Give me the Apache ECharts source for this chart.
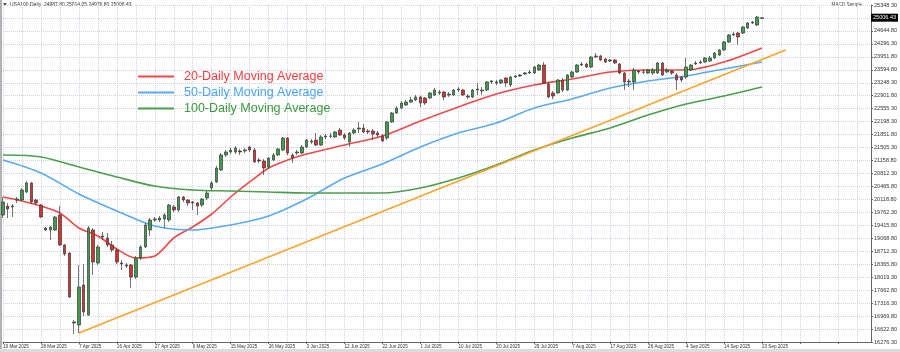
<!DOCTYPE html>
<html lang="en">
  <head>
    <meta charset="UTF-8" />
    <meta name="viewport" content="width=device-width, initial-scale=1.0" />
    <title>USA100 Daily</title>
    <style>
      * {
        padding: 0;
        margin: 0;
      }
      body { background: #fff; }
    </style>
    <script src="https://cdn.jsdelivr.net/npm/echarts@6.0.0/dist/echarts.min.js"></script>
  </head>
  <body>
    <div id="main" style="width: 900px; height: 352px;"></div>
    <script type="text/javascript">
      // daily bars, 19 Mar 2025 .. 23 Sep 2025
      const openP = [
        19695, 19937, 19911, 20099, 20099, 20314, 20557, 20099, 19964, 19345,
        19291, 19291, 19695, 18888, 18672, 16815, 16734, 17811, 17003, 19291,
        18403, 19103, 19076, 18888, 18753, 18403, 18349, 18349, 18026, 18538,
        18834, 19291, 19561, 19561, 19588, 19561, 19911, 19830, 20180, 20099,
        20045, 20018, 19964, 20153, 20422, 20584, 20907, 21310, 21391, 21391,
        21418, 21418, 21526, 21445, 21176, 21149, 20987, 21176, 21310, 21445,
        21768, 21310, 21364, 21364, 21526, 21660, 21714, 21580, 21795, 21822,
        21795, 21983, 21849, 21660, 21903, 22010, 22037, 21957, 21957, 21903,
        21822, 21768, 22199, 22441, 22576, 22656, 22737, 22791, 22872, 22845,
        22845, 22926, 23006, 23006, 22926, 22926, 23060, 23060, 22899, 22872,
        23060, 23033, 23060, 23276, 23276, 23249, 23383, 23195, 23410, 23437,
        23491, 23518, 23518, 23599, 23733, 23222, 22979, 22979, 23329, 23060,
        23410, 23545, 23733, 23760, 23679, 23949, 23975, 23895, 23841, 23868,
        23760, 23518, 23302, 23276, 23545, 23545, 23518, 23518, 23518, 23787,
        23545, 23572, 23464, 23410, 23410, 23599, 23760, 23787, 23814, 23841,
        23922, 24002, 24137, 24352, 24541, 24595, 24595, 24729, 24864, 24810,
        24987.8
      ];
      const closeP = [
        20045, 19857, 19937, 20126, 20368, 20557, 20045, 20018, 19641, 19291,
        19372, 19641, 18888, 18645, 17488, 16788, 17757, 17084, 19345, 18430,
        18834, 19130, 18888, 18753, 18430, 18376, 18322, 18026, 18538, 18834,
        19426, 19561, 19588, 19615, 19695, 19964, 19830, 20180, 20099, 20018,
        20018, 19937, 20126, 20287, 20557, 20960, 21310, 21391, 21445, 21499,
        21391, 21445, 21445, 21122, 21149, 20960, 21230, 21310, 21472, 21768,
        21364, 21230, 21391, 21526, 21714, 21687, 21580, 21795, 21822, 21815,
        21930, 21849, 21768, 21903, 21983, 22037, 21930, 21930, 21876, 21849,
        21687, 22199, 22441, 22576, 22710, 22737, 22791, 22872, 22710, 22710,
        22979, 23060, 22979, 22872, 22952, 23060, 23087, 22926, 22872, 23060,
        23087, 23060, 23276, 23302, 23249, 23329, 23249, 23410, 23437, 23464,
        23518, 23545, 23679, 23733, 23249, 22872, 22899, 23329, 23060, 23464,
        23545, 23733, 23760, 23679, 23949, 23975, 23868, 23814, 23868, 23787,
        23518, 23276, 23276, 23599, 23572, 23540, 23599, 23599, 23787, 23464,
        23599, 23518, 23329, 23329, 23679, 23733, 23787, 23814, 23922, 23922,
        24056, 24137, 24352, 24541, 24568, 24487, 24756, 24864, 24891, 25025,
        25006.43
      ];
      const lowP = [
        19615, 19615, 19641, 20018, 20072, 20287, 19991, 19964, 19615, 19264,
        19022, 19264, 18861, 18592, 17461, 16492, 16519, 16976, 16976, 18080,
        18349, 19022, 18834, 18699, 18376, 18215, 18268, 17730, 17972, 18484,
        18807, 19130, 19507, 19507, 19345, 19507, 19776, 19776, 20045, 19937,
        19830, 19695, 19911, 20099, 20368, 20557, 20880, 21257, 21337, 21337,
        21310, 21364, 21391, 21095, 21095, 20772, 20933, 21149, 21283, 21418,
        21310, 21095, 21310, 21337, 21499, 21606, 21553, 21553, 21741, 21768,
        21768, 21822, 21714, 21526, 21876, 21903, 21903, 21876, 21714, 21795,
        21660, 21714, 22172, 22414, 22549, 22630, 22710, 22764, 22603, 22656,
        22818, 22899, 22926, 22791, 22872, 22899, 23006, 22899, 22818, 22845,
        22926, 22926, 23033, 23222, 23195, 23222, 23141, 23141, 23383, 23410,
        23464, 23491, 23491, 23572, 23222, 22845, 22818, 22952, 23006, 23033,
        23383, 23518, 23706, 23652, 23652, 23922, 23841, 23787, 23814, 23760,
        23491, 23060, 23141, 23060, 23491, 23491, 23491, 23464, 23491, 23437,
        23518, 23464, 23060, 23276, 23356, 23572, 23733, 23760, 23787, 23814,
        23895, 23975, 24110, 24325, 24514, 24272, 24568, 24702, 24837, 24783,
        24976.8
      ];
      const highP = [
        20180, 20018, 19991, 20180, 20422, 20610, 20584, 20126, 19991, 19372,
        19399, 19668, 19937, 18914, 18699, 16869, 18349, 18376, 19399, 19345,
        18888, 19238, 19211, 18995, 18807, 18484, 18403, 18376, 18592, 18888,
        19480, 19615, 19641, 19668, 19749, 19991, 19964, 20207, 20207, 20126,
        20072, 20045, 20153, 20341, 20610, 21014, 21364, 21445, 21499, 21553,
        21472, 21499, 21553, 21499, 21230, 21203, 21257, 21364, 21499, 21795,
        21795, 21364, 21445, 21580, 21741, 21741, 21903, 21849, 21876, 21903,
        21957, 22037, 21903, 21930, 22037, 22199, 22145, 22010, 22010, 21957,
        21876, 22226, 22468, 22630, 22764, 22791, 22872, 22926, 22899, 22872,
        23006, 23114, 23060, 23033, 23006, 23087, 23141, 23087, 22952, 23087,
        23249, 23141, 23302, 23329, 23329, 23356, 23410, 23437, 23464, 23491,
        23545, 23599, 23706, 23760, 23814, 23276, 23033, 23356, 23383, 23491,
        23572, 23760, 23814, 23787, 23975, 24056, 24002, 23922, 23895, 23895,
        23787, 23545, 23356, 23652, 23599, 23626, 23626, 23652, 23814, 23814,
        23652, 23599, 23518, 23437, 23922, 23760, 23841, 23868, 23949, 23975,
        24083, 24164, 24379, 24568, 24622, 24622, 24783, 24891, 24918, 25052,
        25014.05
      ];

      // x labels every 8 bars, first one on bar 0
      const dateLabels = [
        '19 Mar 2025', '28 Mar 2025', '7 Apr 2025', '16 Apr 2025', '27 Apr 2025',
        '6 May 2025', '15 May 2025', '26 May 2025', '3 Jun 2025', '12 Jun 2025',
        '22 Jun 2025', '1 Jul 2025', '10 Jul 2025', '20 Jul 2025', '29 Jul 2025',
        '7 Aug 2025', '17 Aug 2025', '26 Aug 2025', '4 Sep 2025', '14 Sep 2025',
        '23 Sep 2025'
      ];
      // price scale labels, bottom to top ('' = hidden under the price box)
      const yTicks = [
        '16276.30', '16622.80', '16969.80', '17316.30', '17662.80', '18019.30',
        '18365.80', '18712.30', '19068.80', '19415.80', '19762.30', '20118.80',
        '20465.80', '20812.30', '21158.80', '21505.30', '21851.80', '22198.30',
        '22555.30', '22901.80', '23248.30', '23594.80', '23951.80', '24296.30',
        '24644.80', '', '25348.30'
      ];
      const yTop = 25348.3;
      const yBottom = 16276.3;

      // moving averages read at sampled bars: [bar, value]
      const ma20 = [
        [0, 20180], [4, 20072], [8, 19937], [12, 19749], [16, 19345], [20, 19130],
        [24, 18780], [28, 18538], [32, 18592], [36, 19076], [40, 19372], [44, 19722],
        [48, 20180], [52, 20584], [56, 20960], [60, 21176], [64, 21337], [72, 21580],
        [80, 21822], [88, 22226], [96, 22603], [104, 22952], [112, 23195], [120, 23356],
        [128, 23545], [136, 23599], [144, 23599], [152, 23814], [160, 24191]
      ];
      const ma50 = [
        [0, 21176], [8, 20826], [16, 20260], [24, 19803], [32, 19399], [40, 19291],
        [48, 19426], [56, 19668], [64, 20126], [72, 20691], [80, 21068], [88, 21526],
        [96, 21903], [104, 22172], [112, 22576], [120, 22818], [128, 23114], [136, 23302],
        [144, 23437], [152, 23626], [160, 23814]
      ];
      const ma100 = [
        [0, 21310], [8, 21257], [16, 20987], [24, 20718], [32, 20476], [40, 20368],
        [48, 20341], [56, 20314], [64, 20287], [72, 20287], [80, 20287], [88, 20422],
        [96, 20691], [104, 21041], [112, 21445], [120, 21768], [128, 22037], [136, 22387],
        [144, 22683], [152, 22899], [160, 23141]
      ];
      const trendLine = [[16, 16519], [165, 24137]];

      const slotCount = 184; // bars + empty chart shift on the right

      const yStep = (yTop - yBottom) / (yTicks.length - 1);
      const last = openP.length - 1;
      const header = 'USA100,Daily  ' +
        [openP[last], highP[last], lowP[last], closeP[last]].map(v => v.toFixed(2)).join(' ');

      const candles = openP.map((o, i) => [o, closeP[i], lowP[i], highP[i]]);
      const slots = Array.from({length: slotCount}, (_, i) => String(i));

      var myChart = echarts.init(document.getElementById('main'));

      var option = {
        animation: false,
        backgroundColor: '#fff',
        textStyle: {fontFamily: 'Liberation Sans, Arial, sans-serif'},
        grid: {left: 2, right: 27, top: 5, bottom: 10},
        legend: {
          orient: 'vertical',
          left: 133,
          top: 65,
          icon: 'rect',
          itemWidth: 36,
          itemHeight: 2,
          itemGap: 3,
          selectedMode: false,
          textStyle: {fontSize: 12.5, padding: [0, 0, 0, 5]},
          data: [
            {name: '20-Daily Moving Average', textStyle: {color: '#ff3d3d'}},
            {name: '50-Daily Moving Average', textStyle: {color: '#4aa3ff'}},
            {name: '100-Daily Moving Average', textStyle: {color: '#3c9a3c'}}
          ]
        },
        xAxis: {
          type: 'category',
          data: slots,
          boundaryGap: false,
          axisLine: {lineStyle: {color: '#666'}},
          axisTick: {
            interval: i => i % 8 === 0,
            length: 2,
            lineStyle: {color: '#666'}
          },
          axisLabel: {
            interval: i => i % 8 === 0 && i / 8 < dateLabels.length,
            formatter: (v, i) => dateLabels[i / 8] || '',
            align: 'left',
            fontSize: 4.6,
            color: '#333',
            margin: 2
          },
          splitLine: {
            show: true,
            interval: i => i % 4 === 0,
            lineStyle: {color: '#cbd5e6', type: 'dotted', width: 1}
          }
        },
        yAxis: {
          type: 'value',
          position: 'right',
          min: yBottom,
          max: yTop,
          interval: yStep,
          axisLine: {show: true, lineStyle: {color: '#666'}},
          axisTick: {show: true, length: 2, lineStyle: {color: '#666'}},
          axisLabel: {
            fontSize: 5.5,
            color: '#333',
            margin: 3,
            formatter: v => yTicks[Math.round((v - yBottom) / yStep)] || ''
          },
          splitLine: {lineStyle: {color: '#cbd5e6', type: 'dotted', width: 1}}
        },
        graphic: [
          {type: 'line', shape: {x1: 1, y1: 0, x2: 1, y2: 349}, style: {stroke: '#999', lineWidth: 1.5}},
          {type: 'polygon', shape: {points: [[3, 3], [7, 3], [5, 6]]}, style: {fill: '#555'}},
          {type: 'text', left: 10, top: 2, style: {text: header, fontSize: 5, fill: '#333'}},
          {type: 'text', right: 38, top: 2, style: {text: 'MACD Sample', fontSize: 4.6, fill: '#444'}},
          {type: 'rect', shape: {x: 0, y: 349, width: 900, height: 3}, style: {fill: '#dcdcdc'}}
        ],
        series: [
          {
            name: 'USA100',
            type: 'candlestick',
            z: 5,
            data: candles,
            barWidth: 3,
            itemStyle: {
              color: '#3f9c4b',
              color0: '#d93030',
              borderColor: '#3a3a3a',
              borderColor0: '#3a3a3a',
              borderWidth: 0.7
            },
            markLine: {
              silent: true,
              symbol: ['none', 'none'],
              data: [{yAxis: closeP[last]}],
              lineStyle: {color: 'rgba(0,0,0,0)', width: 1, type: 'solid'},
              label: {
                show: true,
                position: 'end',
                distance: 0,
                formatter: p => Number(p.value).toFixed(2),
                backgroundColor: '#000',
                color: '#fff',
                fontSize: 5.5,
                padding: [1, 2, 1, 2]
              }
            }
          },
          {
            name: '20-Daily Moving Average',
            type: 'line',
            data: ma20,
            smooth: 0.3,
            symbol: 'none',
            color: '#f24848',
            lineStyle: {width: 1.6}
          },
          {
            name: '50-Daily Moving Average',
            type: 'line',
            data: ma50,
            smooth: 0.3,
            symbol: 'none',
            color: '#5aaaf2',
            lineStyle: {width: 1.6}
          },
          {
            name: '100-Daily Moving Average',
            type: 'line',
            data: ma100,
            smooth: 0.3,
            symbol: 'none',
            color: '#4c9e4c',
            lineStyle: {width: 1.6}
          },
          {
            name: 'trend',
            type: 'line',
            data: trendLine,
            symbol: 'none',
            color: '#ffa22a',
            lineStyle: {width: 1.6}
          }
        ]
      };

      myChart.setOption(option, true);
    </script>
  </body>
</html>
